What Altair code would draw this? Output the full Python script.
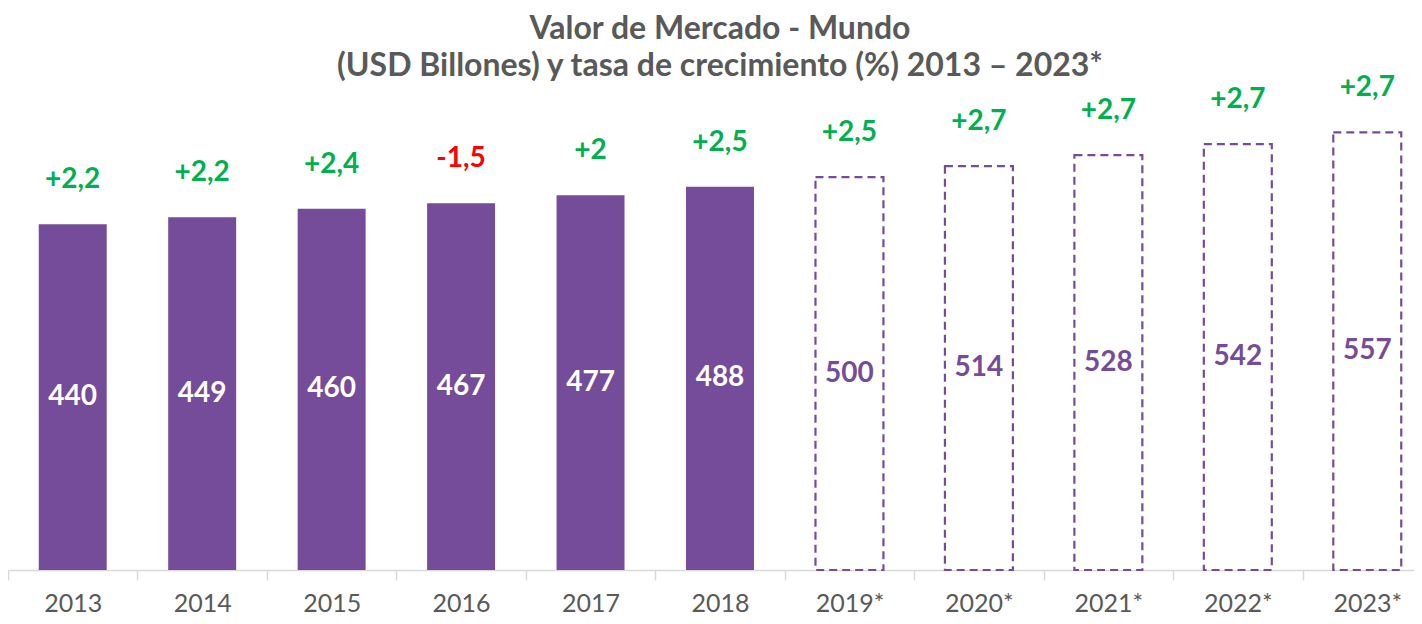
import altair as alt
import pandas as pd

years = ["2013", "2014", "2015", "2016", "2017", "2018",
         "2019*", "2020*", "2021*", "2022*", "2023*"]
market_value = [440, 449, 460, 467, 477, 488, 500, 514, 528, 542, 557]
growth = [2.2, 2.2, 2.4, -1.5, 2.0, 2.5, 2.5, 2.7, 2.7, 2.7, 2.7]
projected = [False] * 6 + [True] * 5

title_lines = ["Valor de Mercado - Mundo",
               "(USD Billones) y tasa de crecimiento (%) 2013 \u2013 2023*"]

PURPLE = "#754C99"
GREEN = "#00B050"
RED = "#FF0000"
GREY = "#595959"
FONT = "Lato"


def fmt_growth(v):
    s = f"{v:+g}"
    return s.replace(".", ",")


df = pd.DataFrame({
    "year": years,
    "value": market_value,
    "half": [v / 2 for v in market_value],
    "growth": growth,
    "growth_label": [fmt_growth(g) for g in growth],
    "positive": [g >= 0 for g in growth],
    "projected": projected,
})

x = alt.X("year:N", sort=years, title=None,
          scale=alt.Scale(range=[0, 1424], paddingInner=0, paddingOuter=0),
          axis=alt.Axis(labelAngle=0, labelFont=FONT, labelFontSize=25,
                        labelColor=GREY, domainColor="#D9D9D9", domainWidth=1.5,
                        tickColor="#D9D9D9", tickWidth=1.5, tickSize=10,
                        tickBand="extent", labelPadding=11, grid=False))
y = alt.Y("value:Q", scale=alt.Scale(domain=[0, 611], nice=False, zero=True), axis=None)

base = alt.Chart(df)
BAR_W = {"band": 0.525}

solid = base.transform_filter("!datum.projected").mark_bar(
    color=PURPLE, width=BAR_W).encode(x=x, y=y)
dashed = base.transform_filter("datum.projected").mark_bar(
    fill="white", stroke=PURPLE, strokeWidth=2.2, strokeDash=[8, 5], width=BAR_W
).encode(x=x, y=y)

value_labels = base.mark_text(font=FONT, fontSize=28, fontWeight="bold",
                              baseline="middle").encode(
    x=x,
    y=alt.Y("half:Q", scale=alt.Scale(domain=[0, 611], nice=False), axis=None),
    text="value:Q",
    color=alt.condition("datum.projected", alt.value(PURPLE), alt.value("white")),
)

growth_labels = base.mark_text(font=FONT, fontSize=28, fontWeight="bold",
                               baseline="middle", dy=-44).encode(
    x=x, y=y,
    text="growth_label:N",
    color=alt.condition("datum.positive", alt.value(GREEN), alt.value(RED)),
)

chart = alt.layer(solid, dashed, value_labels, growth_labels).properties(
    width=1406, height=480,
    title=alt.TitleParams(text=title_lines, font=FONT, fontSize=32, fontWeight="bold",
                          color=GREY, anchor="middle", offset=-9, lineHeight=37, dx=9),
    autosize=alt.AutoSizeParams(type="none"),
    padding={"left": 0, "right": 0, "top": 82, "bottom": 46},
).configure_view(stroke=None)

chart.save("out.html", embed_options={"renderer": "svg", "actions": False})
